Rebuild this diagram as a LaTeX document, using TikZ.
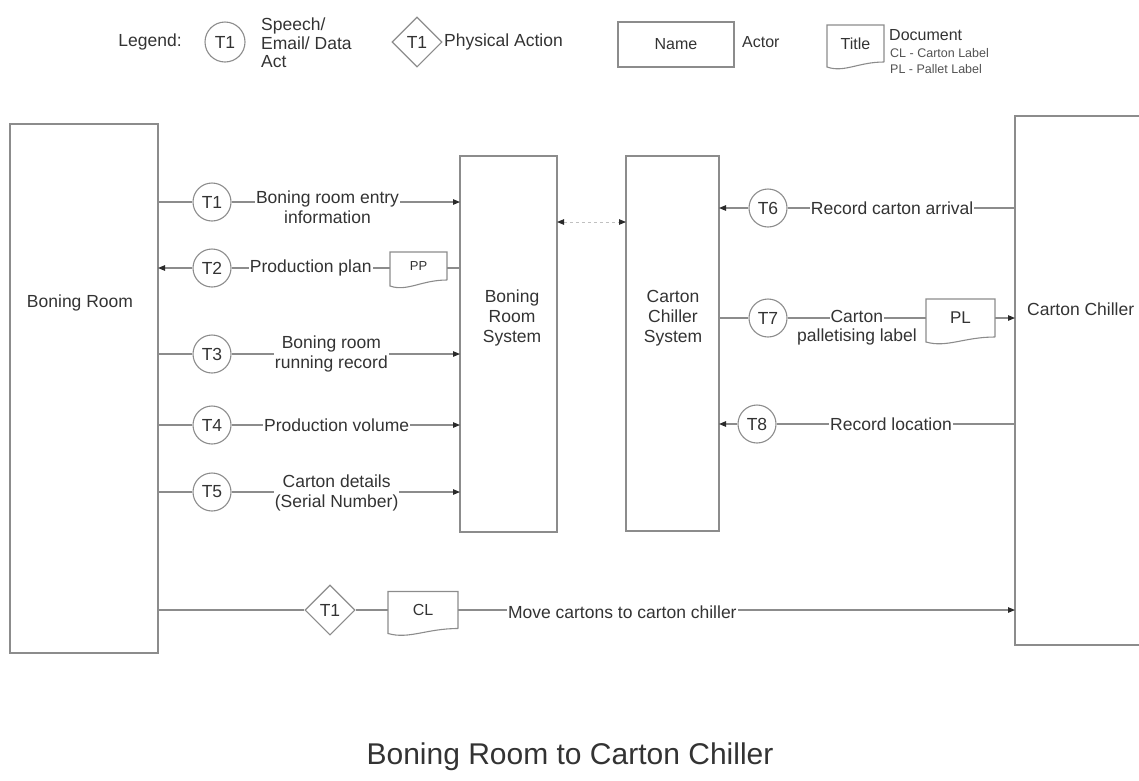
\documentclass[tikz,border=0pt]{standalone}
\usepackage{fontspec}
\setmainfont{Liberation Sans}
\usetikzlibrary{shapes.geometric,arrows.meta,calc}
\definecolor{ln}{HTML}{8C8C8C}
\definecolor{tx}{HTML}{333333}
\definecolor{tipc}{HTML}{2A2A2A}
\newcommand{\docwave}[3]{%
  \draw[docline] (#1.south east) -- (#1.north east) -- (#1.north west) -- ($(#1.south west)+(0,#3)$)
   .. controls ($(#1.south west)+({0.3*#2},{#3+6})$) and ($(#1.south east)+({-0.45*#2},0)$) .. (#1.south east);}
\begin{document}
\begin{tikzpicture}[x=1pt,y=-1pt,
  txt/.style={inner sep=0pt, text=tx, align=center, font=\fontsize{17.5}{20}\selectfont},
  smalltxt/.style={inner sep=0pt, text=tx!85, align=left, font=\fontsize{12.5}{14}\selectfont},
  lbl/.style={fill=white, inner sep=1pt, text=tx, align=center, font=\fontsize{17.5}{20}\selectfont},
  actor/.style={draw=ln, line width=1.3pt, rectangle, inner sep=0pt, outer sep=0pt},
  act/.style={draw=ln, circle, line width=1.1pt, minimum size=38pt, inner sep=0pt, text=tx, font=\fontsize{17.5}{20}\selectfont},
  phys/.style={draw=ln, diamond, shape aspect=1, minimum size=50pt, inner sep=0pt, line width=1.1pt, text=tx, font=\fontsize{17.5}{20}\selectfont},
  docbox/.style={rectangle, inner sep=0pt, outer sep=0pt, text=tx, font=\fontsize{17}{20}\selectfont},
  docline/.style={draw=ln, line width=1.1pt},
  flow/.style={draw=ln, line width=1.1pt},
  arr/.style={flow, -{Triangle[length=7pt,width=5.5pt,color=tipc]}}
]
\path[use as bounding box] (0,0) rectangle (1139,780);
\clip (0,0) rectangle (1139,780);

% ---------- Legend ----------
\node[txt] (lg) at (150,42) {Legend:};
\node[act, minimum size=40pt] (lt) at (225,42) {T1};
\node[txt, align=left, anchor=west, font=\fontsize{17.5}{18.5}\selectfont] (ls) at (261,43) {Speech/\\Email/ Data\\Act};
\node[phys] (lp) at (417,42) {T1};
\node[txt, anchor=west] (lpa) at (444,42) {Physical Action};
\node[actor, minimum width=116pt, minimum height=45pt, text=tx, font=\fontsize{16}{18}\selectfont] (lnm) at (676,44.5) {Name};
\node[txt, anchor=west, font=\fontsize{16}{18}\selectfont] (la) at (742,42) {Actor};
\node[docbox, minimum width=57pt, minimum height=37pt, font=\fontsize{16}{18}\selectfont] (ltd) at (855.5,43.5) {Title};
\docwave{ltd}{57}{5}
\node[txt, anchor=west, font=\fontsize{16}{18}\selectfont] (ldoc) at (889,35) {Document};
\node[smalltxt, anchor=west] (lcl) at (890,53) {CL - Carton Label};
\node[smalltxt, anchor=west] (lpl) at (890,69) {PL - Pallet Label};

% ---------- Actors ----------
\node[actor, minimum width=148pt, minimum height=529pt] (br) at (84,388.5) {};
\node[txt] (brl) at (80,303) {Boning Room};
\node[actor, minimum width=97pt, minimum height=376pt] (brs) at (508.5,344) {};
\node[txt] (brsl) at (512,318) {Boning\\Room\\System};
\node[actor, minimum width=93pt, minimum height=375pt] (ccs) at (672.5,343.5) {};
\node[txt] (ccsl) at (673,318) {Carton\\Chiller\\System};
\node[actor, minimum width=145pt, minimum height=529pt] (cc) at (1087.5,380.5) {};
\node[txt, anchor=west] (ccl) at (1027,309) {Carton Chiller};

% ---------- Left flows ----------
\node[act] (t1) at (212,202) {T1};
\draw[flow] (br.east |- t1) -- (t1);
\draw[arr] (t1) -- node[lbl, pos=0.42, yshift=-5pt] (l1) {Boning room entry\\information} (t1 -| brs.west);

\node[act] (t2) at (212,268) {T2};
\node[docbox, minimum width=57pt, minimum height=28pt, font=\fontsize{13}{15}\selectfont] (pp) at (418.5,266) {PP};
\docwave{pp}{57}{6}
\draw[flow] (brs.west |- t2) -- (t2 -| pp.east);
\draw[flow] (t2 -| pp.west) -- node[lbl, pos=0.5] (l2) {Production plan} (t2);
\draw[arr] (t2) -- (br.east |- t2);

\node[act] (t3) at (212,354) {T3};
\draw[flow] (br.east |- t3) -- (t3);
\draw[arr] (t3) -- node[lbl, pos=0.437] (l3) {Boning room\\running record} (t3 -| brs.west);

\node[act] (t4) at (212,425) {T4};
\draw[flow] (br.east |- t4) -- (t4);
\draw[arr] (t4) -- node[lbl, pos=0.46] (l4) {Production volume} (t4 -| brs.west);

\node[act] (t5) at (212,492) {T5};
\draw[flow] (br.east |- t5) -- (t5);
\draw[arr] (t5) -- node[lbl, pos=0.46, yshift=-1pt] (l5) {Carton details\\(Serial Number)} (t5 -| brs.west);

% ---------- link between systems ----------
\draw[flow, draw=ln!55, dashed, line width=0.9pt, {Triangle[length=7pt,width=5.5pt,color=tipc]}-{Triangle[length=7pt,width=5.5pt,color=tipc]}]
  ($(brs.north east)+(0,66)$) -- ($(ccs.north west)+(0,66)$);

% ---------- Right flows ----------
\node[act] (t6) at (768,208) {T6};
\draw[flow] (cc.west |- t6) -- node[lbl, pos=0.54] (l6) {Record carton arrival} (t6);
\draw[arr] (t6) -- (t6 -| ccs.east);

\node[act] (t7) at (768,318) {T7};
\node[docbox, minimum width=69pt, minimum height=38pt] (pl) at (960.5,318) {PL};
\docwave{pl}{69}{5}
\draw[flow] (ccs.east |- t7) -- (t7);
\draw[flow] (t7) -- node[lbl, pos=0.5, yshift=2pt] (l7) {Carton} (pl.west);
\node[txt] (l7b) at (857,337) {palletising label};
\draw[arr] (pl.east) -- (cc.west |- pl);

\node[act] (t8) at (757,424) {T8};
\draw[flow] (cc.west |- t8) -- node[lbl, pos=0.52] (l8) {Record location} (t8);
\draw[arr] (t8) -- (t8 -| ccs.east);

% ---------- Physical move ----------
\node[phys] (d1) at (330,610) {T1};
\node[docbox, minimum width=70pt, minimum height=37pt, font=\fontsize{16}{18}\selectfont] (cl) at (423,610) {CL};
\docwave{cl}{70}{5}
\draw[flow] (br.east |- d1) -- (d1);
\draw[flow] (d1) -- (cl.west);
\draw[arr] (cl.east) -- node[lbl, pos=0.295, yshift=-2pt] (lm) {Move cartons to carton chiller} (cc.west |- cl);

% ---------- Title ----------
\node[txt, font=\fontsize{30}{36}\selectfont] (title) at (570,757) {Boning Room to Carton Chiller};
\end{tikzpicture}
\end{document}
